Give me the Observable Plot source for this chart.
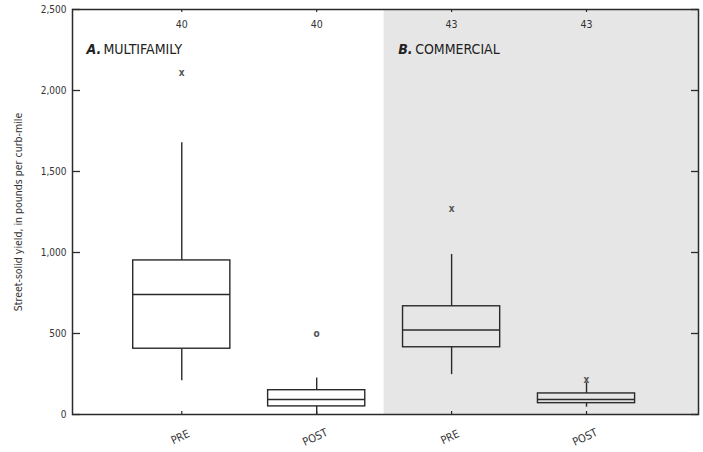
<!DOCTYPE html>
<html><head><meta charset="utf-8">
<script src="https://cdn.jsdelivr.net/npm/d3@7"></script>
<script src="https://cdn.jsdelivr.net/npm/@observablehq/plot@0.6"></script>
<style>body{margin:0;background:#fff}</style>
</head><body><div id="chart"></div>
<script>
const categories = ["PRE", "POST", "PRE", "POST"];
const catPos = [1, 2, 3, 4];
const counts = ["40", "40", "43", "43"];
const whiskerLow = [208, 0, 246, 45];
const q1 = [406, 50, 415, 70];
const median = [741, 93, 522, 93];
const q3 = [951, 150, 668, 130];
const whiskerHigh = [1677, 225, 988, 196];
const outlierPos = [1, 2, 3, 4];
const outlierVal = [2104, 493, 1262, 205];
const outlierSym = ["x", "o", "x", "x"];
const panelLetters = ["A.", "B."];
const panelNames = ["MULTIFAMILY", "COMMERCIAL"];
const panelStart = [0.19, 2.5];
const panelEnd = [2.5, 4.83];
const panelFill = ["#ffffff", "#e6e6e6"];
const yTicks = [0, 500, 1000, 1500, 2000, 2500];
const yLabel = "Street-solid yield, in pounds per curb-mile";

const W = 703, H = 452, mL = 72, mR = 5, mT = 9, mB = 38;
const pW = W - mL - mR, pH = H - mT - mB;
const half = 0.36;
const ink = "#2a2a2a";
const idx = d3.range(catPos.length);
const pidx = d3.range(panelStart.length);
const oidx = d3.range(outlierPos.length);

const chart = Plot.plot({
  width: W, height: H,
  marginLeft: mL, marginRight: mR, marginTop: mT, marginBottom: mB,
  style: {fontFamily: "'Liberation Sans Narrow', 'DejaVu Sans Condensed', sans-serif", fontSize: "10px", background: "#fff", overflow: "visible"},
  x: {type: "linear", domain: [0.19, 4.83], axis: null},
  y: {domain: [0, 2500]},
  marks: [
    Plot.rect(pidx, {x1: i => panelStart[i], x2: i => panelEnd[i], y1: 0, y2: 2500, fill: i => panelFill[i]}),
    Plot.axisY({ticks: yTicks, tickSize: 0, tickPadding: 6, tickFormat: d3.format(","), label: null, fontSize: 10, fill: "#333"}),
    Plot.tickY(yTicks, {y: d => d, insetRight: pW - 8, stroke: ink, strokeWidth: 1.3}),
    Plot.tickY(yTicks, {y: d => d, insetLeft: pW - 7, stroke: ink, strokeWidth: 1.3}),
    Plot.tickX(catPos, {x: d => d, insetBottom: pH - 3, stroke: ink, strokeWidth: 1.2}),
    Plot.tickX(catPos, {x: d => d, insetTop: pH - 3, stroke: ink, strokeWidth: 1.2}),
    Plot.ruleX(idx, {x: i => catPos[i], y1: i => q3[i], y2: i => whiskerHigh[i], stroke: ink, strokeWidth: 1.4}),
    Plot.ruleX(idx, {x: i => catPos[i], y1: i => whiskerLow[i], y2: i => q1[i], stroke: ink, strokeWidth: 1.4}),
    Plot.rect(idx, {x1: i => catPos[i] - half, x2: i => catPos[i] + half, y1: i => q1[i], y2: i => q3[i], fill: "none", stroke: ink, strokeWidth: 1.4}),
    Plot.ruleY(idx, {y: i => median[i], x1: i => catPos[i] - half, x2: i => catPos[i] + half, stroke: ink, strokeWidth: 1.4}),
    Plot.text(oidx, {x: i => outlierPos[i], y: i => outlierVal[i], text: i => outlierSym[i], fontSize: 10, fontWeight: "bold", dy: -1, fill: "#555"}),
    Plot.frame({stroke: ink, strokeWidth: 1.5}),
    Plot.text(idx, {x: i => catPos[i], text: i => counts[i], frameAnchor: "top", dy: 11, fontSize: 10.5, fill: "#333"}),
    Plot.text(idx, {x: i => catPos[i], text: i => categories[i], frameAnchor: "bottom", dy: 26, rotate: -25, fontSize: 11, fill: "#333"}),
    Plot.text(pidx, {x: i => panelStart[i], text: i => panelLetters[i], frameAnchor: "top", dy: 35, dx: 14, textAnchor: "start", fontWeight: "bold", fontStyle: "italic", fontSize: 14, fill: "#222"}),
    Plot.text(pidx, {x: i => panelStart[i], text: i => panelNames[i], frameAnchor: "top", dy: 35, dx: 31, textAnchor: "start", fontSize: 14, fill: "#222"}),
    Plot.text([yLabel], {frameAnchor: "left", textAnchor: "middle", rotate: -90, dx: -54, fontSize: 10.5, fill: "#333"})
  ]
});
document.getElementById("chart").appendChild(chart);
</script>
</body></html>
